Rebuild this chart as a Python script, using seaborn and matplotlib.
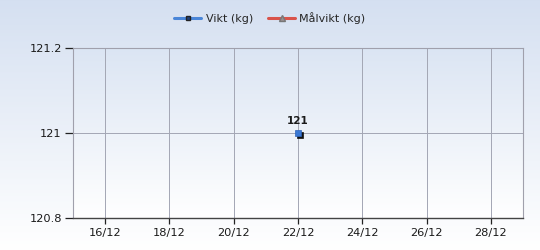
import numpy as np
import pandas as pd
import matplotlib
matplotlib.use("Agg")
import matplotlib.pyplot as plt
import matplotlib.dates as mdates
import matplotlib.transforms as mtransforms
from matplotlib.lines import Line2D
import seaborn as sns

# Data
dates = ["2023-12-22"]
weights = [121.0]
target_dates = []
target_weights = []
series_names = ["Vikt (kg)", "Målvikt (kg)"]
x_range = ["2023-12-15", "2023-12-29"]
x_ticks = ["2023-12-16", "2023-12-18", "2023-12-20", "2023-12-22",
           "2023-12-24", "2023-12-26", "2023-12-28"]
y_ticks = [120.8, 121.0, 121.2]
y_tick_labels = ["120.8", "121", "121.2"]

sns.set_theme(style="white")
plt.rcParams['font.family'] = ['DejaVu Sans']

df = pd.DataFrame({"date": pd.to_datetime(dates), "value": weights})

fig = plt.figure(figsize=(5.4, 2.5), dpi=100)
# figure gradient background
bg = fig.add_axes([0, 0, 1, 1], zorder=-10)
grad = np.linspace(0, 1, 256).reshape(-1, 1)
top = np.array([0.835, 0.878, 0.945])
bot = np.array([1.0, 1.0, 1.0])
img = top[None, None, :] * (1 - grad[:, :, None]) + bot[None, None, :] * grad[:, :, None]
bg.imshow(img, aspect='auto', extent=[0, 1, 0, 1])
bg.axis('off')

ax = fig.add_axes([0.135, 0.128, 0.8335, 0.68])
ax.set_facecolor('none')
# axes gradient
atop = np.array([0.86, 0.898, 0.953])
aimg = atop[None, None, :] * (1 - grad[:, :, None]) + bot[None, None, :] * grad[:, :, None]
ax.imshow(aimg, aspect='auto', extent=[0, 1, 0, 1], transform=ax.transAxes, zorder=0)

# shadow
shadow_tr = mtransforms.offset_copy(ax.transData, fig=fig, x=1.3, y=-1.3, units='points')
sns.lineplot(data=df, x="date", y="value", ax=ax, marker='s', markersize=5,
             color='#111111', markeredgecolor='#111111', markeredgewidth=0.5,
             linewidth=2, zorder=4, transform=shadow_tr)
sns.lineplot(data=df, x="date", y="value", ax=ax, marker='s', markersize=5,
             color='#3a78d4', markeredgecolor='#2d62b8', markeredgewidth=0.5,
             linewidth=2, zorder=5)

for d, v in zip(df["date"], df["value"]):
    ax.annotate(f"{v:g}", (d, v), xytext=(0, 5), textcoords='offset points',
                ha='center', va='bottom', fontsize=7.5, fontweight='bold', color='#1a1a1a', zorder=6)

ax.set_xlim(pd.to_datetime(x_range[0]), pd.to_datetime(x_range[1]))
ax.set_ylim(120.8, 121.2)
ax.set_xticks(pd.to_datetime(x_ticks))
ax.xaxis.set_major_formatter(mdates.DateFormatter('%d/%m'))
ax.set_yticks(y_ticks)
ax.set_yticklabels(y_tick_labels)
ax.set_xlabel("")
ax.set_ylabel("")
ax.grid(True, color='#a3a6b4', linewidth=0.7, zorder=1)
for l in ax.get_xgridlines() + ax.get_ygridlines():
    l.set_zorder(1)

ax.tick_params(axis='both', which='both', length=4, width=0.9, color='#222222',
               labelsize=8.2, labelcolor='#1a1a1a', direction='out')
ax.tick_params(axis='x', pad=3, bottom=True)
ax.tick_params(axis='y', pad=2, left=True, length=6)
ax.spines['bottom'].set_color('#444444')
ax.spines['bottom'].set_linewidth(1.0)
for s in ['top', 'right', 'left']:
    ax.spines[s].set_color('#a0a0ac')
    ax.spines[s].set_linewidth(0.8)

handles = [
    Line2D([], [], color='#4a86d8', lw=2.2, marker='s', markersize=3.5,
           markerfacecolor='#1f3f78', markeredgecolor='#222222'),
    Line2D([], [], color='#d9534a', lw=2.2, marker='^', markersize=4,
           markerfacecolor='#9a8f90', markeredgecolor='#777777'),
]
fig.legend(handles, series_names, loc='center', bbox_to_anchor=(0.5, 0.928),
           ncol=2, frameon=False, fontsize=8, handlelength=2.4,
           handletextpad=0.4, columnspacing=1.4)

fig.savefig("out.png", dpi=100)
